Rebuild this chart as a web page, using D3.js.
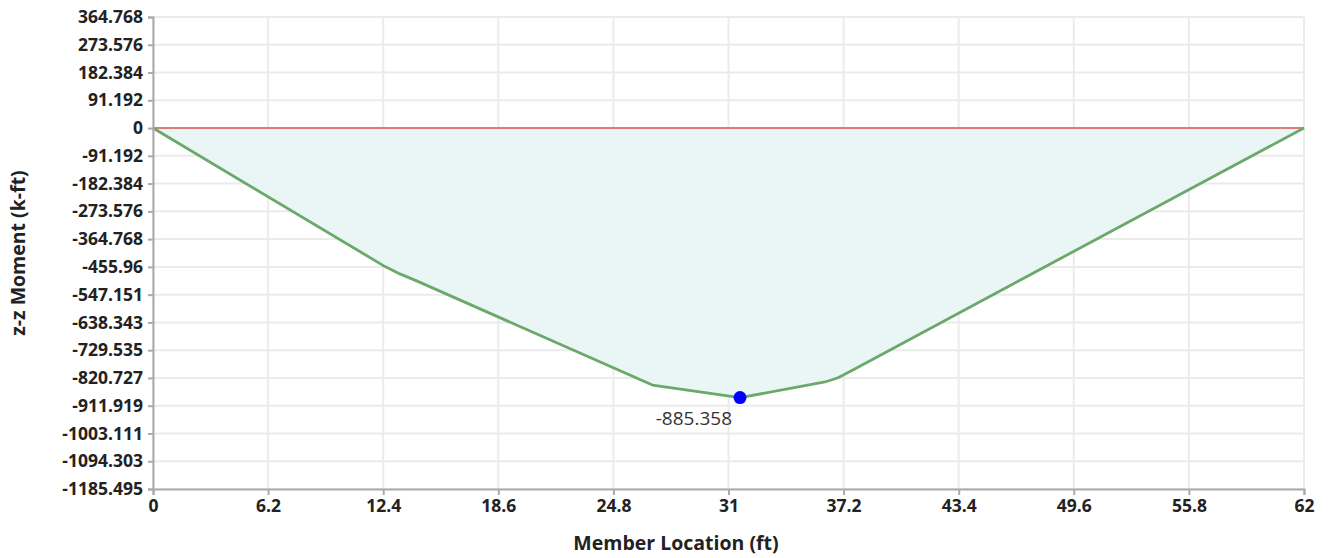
<!DOCTYPE html>
<html lang="en">
<head>
    <meta charset="UTF-8">
    <script src="https://cdn.jsdelivr.net/npm/d3@7"></script>
    <title>z-z Moment</title>
    <style>
        * {
            margin: 0;
            padding: 0;
            box-sizing: border-box;
        }

        body {
            background: white;
            font-family: "Open Sans", "Noto Sans", sans-serif;
        }
    </style>
</head>
<body>
    <svg id="chart" width="1328" height="558"></svg>
    <script>
        // member location (ft) and z-z moment (k-ft)
        let locations = [0, 12.5, 13.3, 14.2, 26.9, 31.62, 36.2, 36.9, 37.6, 46.2, 62]
        let moments = [0, -455, -479, -502, -844, -885.358, -834, -820, -798, -516, 0]

        let xTicks = [0, 6.2, 12.4, 18.6, 24.8, 31, 37.2, 43.4, 49.6, 55.8, 62]
        let yTickLabels = ['364.768', '273.576', '182.384', '91.192', '0', '-91.192', '-182.384',
            '-273.576', '-364.768', '-455.96', '-547.151', '-638.343', '-729.535', '-820.727',
            '-911.919', '-1003.111', '-1094.303', '-1185.495']
        let yTicks = yTickLabels.map(Number)

        let peakIndex = 5

        let svg = d3.select('#chart')

        let mLeft = 153, mRight = 1304, mTop = 17, mBottom = 489

        let xScale = d3.scaleLinear()
            .domain([0, 62])
            .range([mLeft, mRight])

        let yScale = d3.scaleLinear()
            .domain([yTicks[yTicks.length - 1], yTicks[0]])
            .range([mBottom, mTop])

        // grid
        svg.append('g')
            .selectAll('line')
            .data(xTicks)
            .join('line')
            .attr('x1', d => xScale(d))
            .attr('x2', d => xScale(d))
            .attr('y1', mTop)
            .attr('y2', mBottom)
            .attr('stroke', '#ebebeb')
            .attr('stroke-width', 2)

        svg.append('g')
            .selectAll('line')
            .data(yTicks)
            .join('line')
            .attr('x1', mLeft)
            .attr('x2', mRight)
            .attr('y1', d => yScale(d))
            .attr('y2', d => yScale(d))
            .attr('stroke', '#ebebeb')
            .attr('stroke-width', 2)

        let points = locations.map((d, i) => [d, moments[i]])

        let area = d3.area()
            .x(d => xScale(d[0]))
            .y0(yScale(0))
            .y1(d => yScale(d[1]))

        let line = d3.line()
            .x(d => xScale(d[0]))
            .y(d => yScale(d[1]))

        svg.append('path')
            .datum(points)
            .attr('d', area)
            .attr('fill', '#e9f6f5')

        // zero line
        svg.append('line')
            .attr('x1', xScale(0))
            .attr('x2', xScale(62))
            .attr('y1', yScale(0))
            .attr('y2', yScale(0))
            .attr('stroke', '#df7a7a')
            .attr('stroke-width', 2)

        svg.append('path')
            .datum(points)
            .attr('d', line)
            .attr('fill', 'none')
            .attr('stroke', '#6aa96a')
            .attr('stroke-width', 2.8)
            .attr('stroke-linejoin', 'round')

        // axes
        let xAxis = d3.axisBottom(xScale)
            .tickValues(xTicks)
            .tickFormat(d => d)
            .tickSizeOuter(0)
            .tickSize(6)
            .tickPadding(5)

        let yAxis = d3.axisLeft(yScale)
            .tickValues(yTicks)
            .tickFormat((d, i) => yTickLabels[i])
            .tickSizeOuter(0)
            .tickSize(5)
            .tickPadding(5)

        let gx = svg.append('g')
            .attr('transform', `translate(0, ${mBottom})`)
            .call(xAxis)

        let gy = svg.append('g')
            .attr('transform', `translate(${mLeft}, 0)`)
            .call(yAxis)

        for (let g of [gx, gy]) {
            g.select('.domain').attr('stroke', '#aaa').attr('stroke-width', 2)
            g.selectAll('.tick line').attr('stroke', '#aaa').attr('stroke-width', 2)
            g.selectAll('.tick text')
                .attr('fill', '#222')
                .style('font-family', '"Open Sans", sans-serif')
                .style('font-size', '17.5px')
                .style('font-weight', 'bold')
        }

        // peak marker
        let peak = points[peakIndex]
        svg.append('circle')
            .attr('cx', xScale(peak[0]))
            .attr('cy', yScale(peak[1]))
            .attr('r', 6.5)
            .attr('fill', '#0000ff')

        svg.append('text')
            .attr('x', xScale(peak[0]) - 8)
            .attr('y', yScale(peak[1]) + 27)
            .attr('text-anchor', 'end')
            .attr('fill', '#333')
            .style('font-size', '19px')
            .text(peak[1])

        // axis titles
        svg.append('text')
            .attr('x', 676)
            .attr('y', 550)
            .attr('text-anchor', 'middle')
            .attr('fill', '#222')
            .style('font-size', '19.5px')
            .style('font-weight', 'bold')
            .text('Member Location (ft)')

        svg.append('text')
            .attr('transform', `translate(25, 253) rotate(-90)`)
            .attr('text-anchor', 'middle')
            .attr('fill', '#222')
            .style('font-size', '19.5px')
            .style('font-weight', 'bold')
            .text('z-z Moment (k-ft)')
    </script>
</body>
</html>
